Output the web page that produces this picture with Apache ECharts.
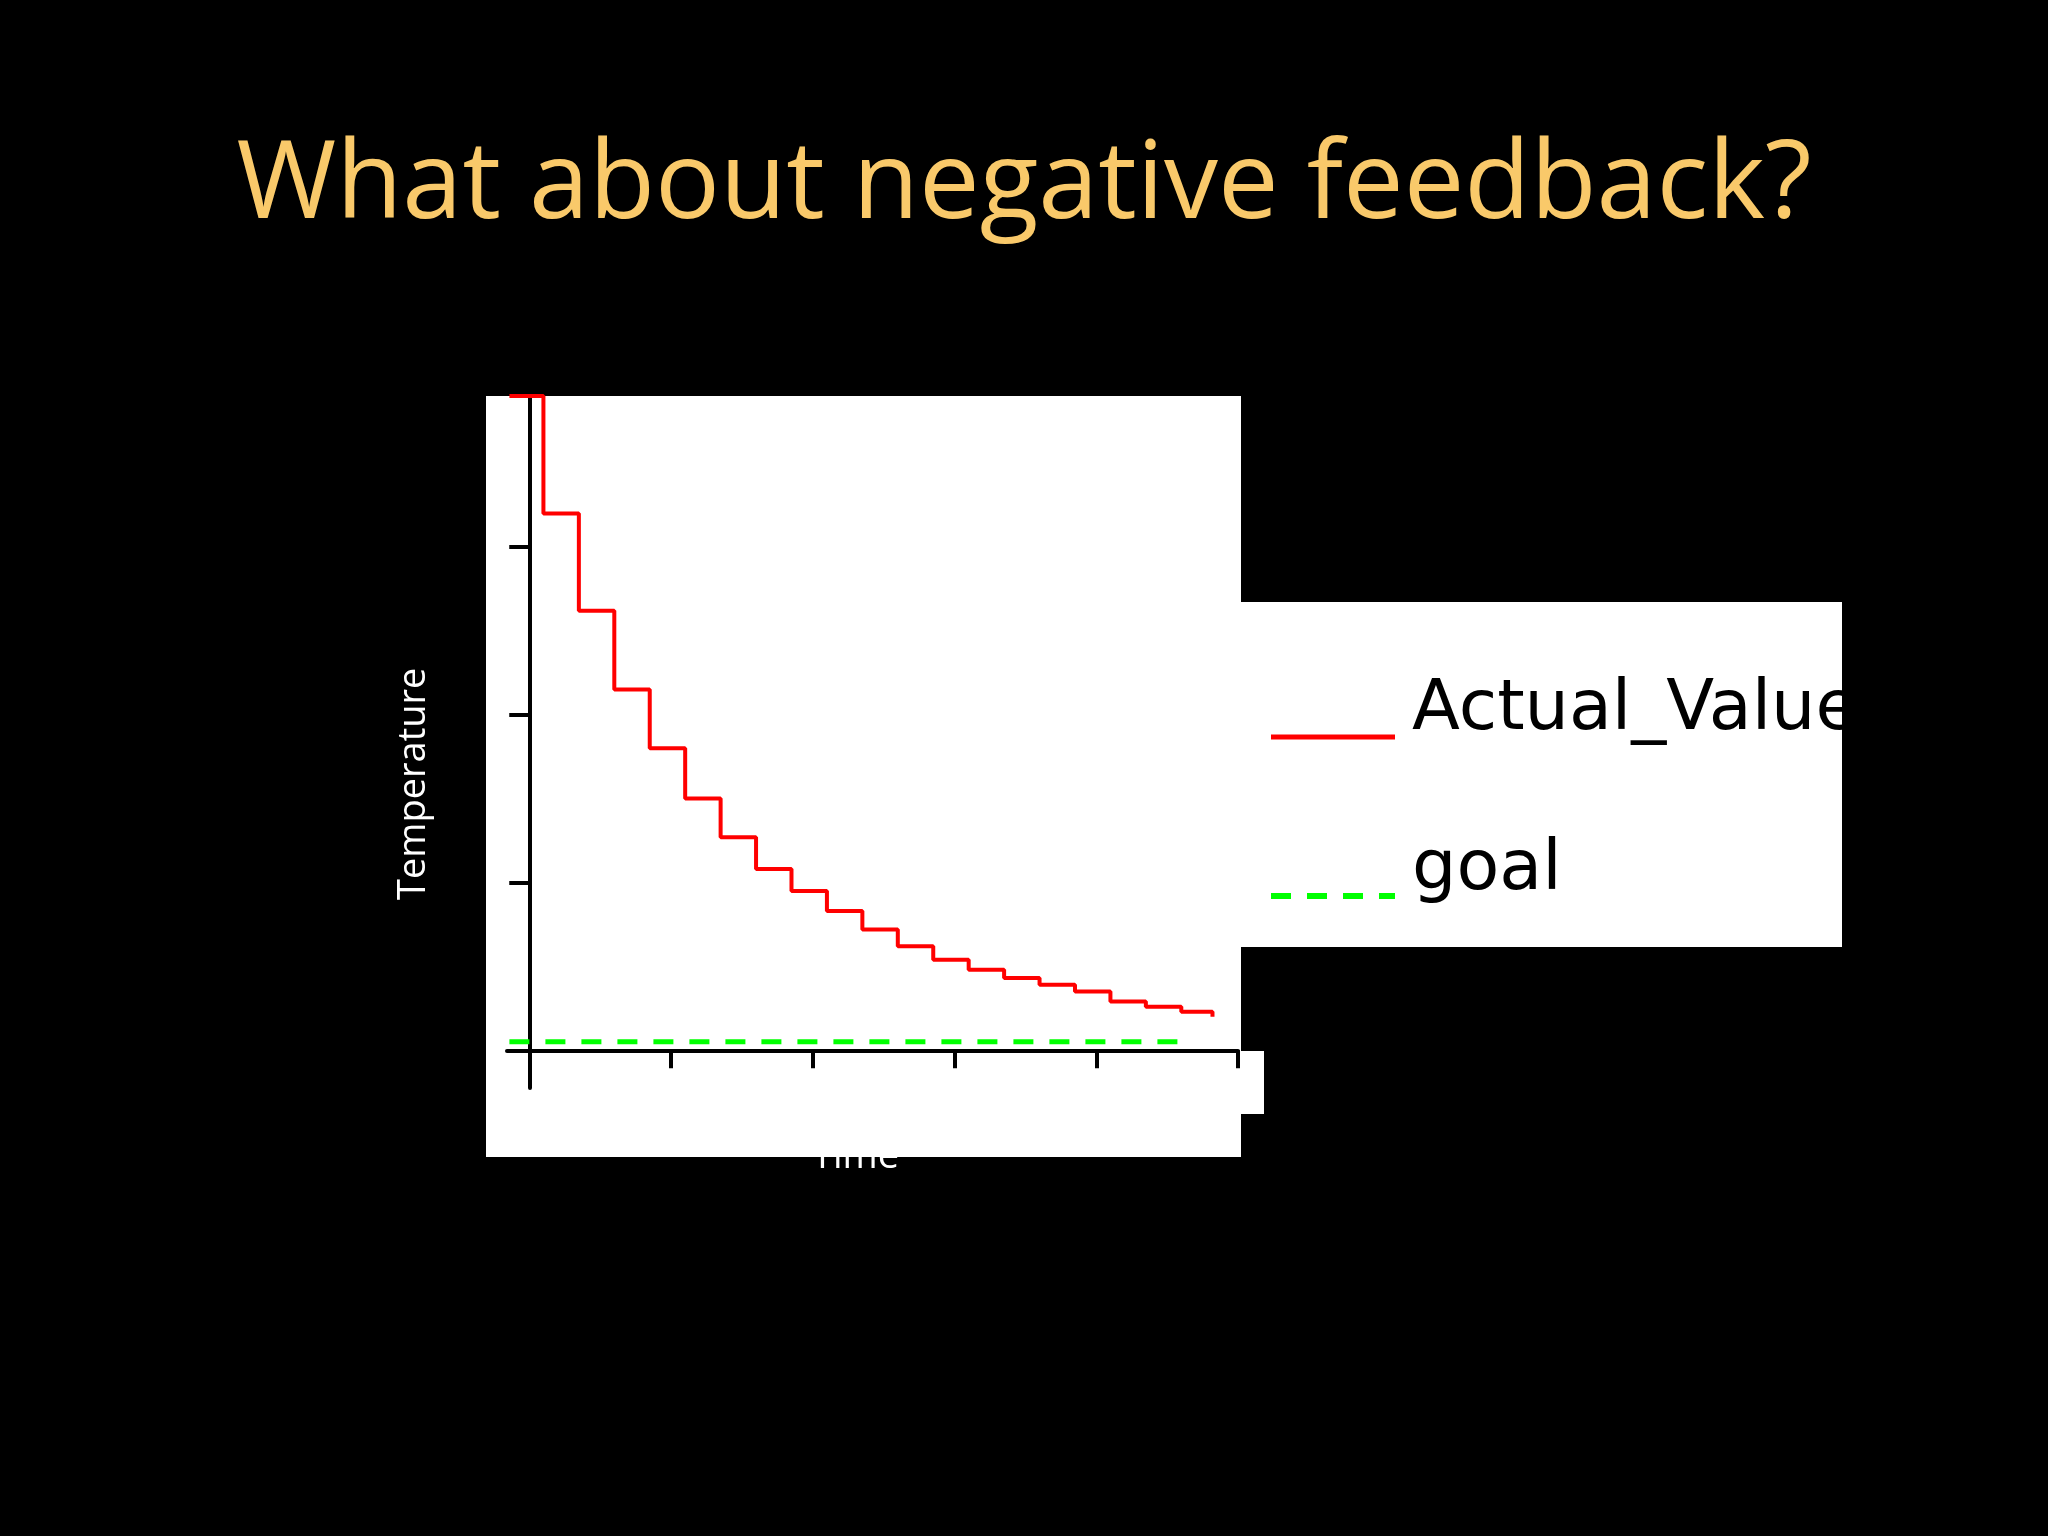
<!DOCTYPE html>
<html>
<head>
<meta charset="utf-8">
<script src="https://cdn.jsdelivr.net/npm/echarts@6/dist/echarts.min.js"></script>
<style>html,body{margin:0;padding:0;background:#000}#chart{width:2048px;height:1536px}</style>
</head>
<body>
<div id="chart"></div>
<script>
// time / temperature readings
const timeVals = [-0.14, 0.1, 0.35, 0.6, 0.85, 1.1, 1.35, 1.6, 1.85, 2.1, 2.35, 2.6, 2.85, 3.1, 3.35, 3.6, 3.85, 4.1, 4.35, 4.6, 4.82];
const actualVals = [3.9, 3.2, 2.62, 2.15, 1.8, 1.5, 1.27, 1.08, 0.95, 0.83, 0.72, 0.62, 0.54, 0.48, 0.43, 0.39, 0.35, 0.29, 0.26, 0.23, 0.2];
const goalTimes = [-0.14, 4.65];
const goalVals = [0.05, 0.05];
const xTicks = [0, 1, 2, 3, 4, 5];
const yTicks = [0, 1, 2, 3];

const chart = echarts.init(document.getElementById('chart'));
const axisLine = { lineStyle: { color: '#000', width: 4 } };

chart.setOption({
  backgroundColor: '#000',
  animation: false,
  title: {
    text: 'What about negative feedback?',
    left: 'center', top: 128,
    textStyle: { color: '#f9c96a', fontSize: 108, fontWeight: 'normal', fontFamily: 'Open Sans' }
  },
  graphic: [
    { type: 'rect', z: -10, shape: { x: 486, y: 396, width: 755, height: 761 }, style: { fill: '#fff' } },
    { type: 'rect', z: -10, shape: { x: 1236, y: 1051, width: 28, height: 63 }, style: { fill: '#fff' } },
    { type: 'text', z: -20, left: 812, top: 1138, style: { text: 'Time', fill: '#fff', font: '38px "Open Sans"' } },
    { type: 'text', rotation: Math.PI / 2, x: 395, y: 900, style: { text: 'Temperature', fill: '#fff', font: '38px "Open Sans"', textAlign: 'left', textVerticalAlign: 'top' } },
    { type: 'rect', shape: { x: 1241, y: 602, width: 601, height: 345 }, style: { fill: '#fff' } },
    { type: 'line', shape: { x1: 1271, y1: 737, x2: 1395, y2: 737 }, style: { stroke: '#ff0000', lineWidth: 5 } },
    { type: 'text', left: 1412, top: 676, style: { text: 'Actual_Value', fill: '#000', font: '70px "DejaVu Sans"' } },
    { type: 'line', shape: { x1: 1271, y1: 896, x2: 1395, y2: 896 }, style: { stroke: '#00ff00', lineWidth: 6, lineDash: [20, 16] } },
    { type: 'text', left: 1412, top: 836, style: { text: 'goal', fill: '#000', font: '70px "DejaVu Sans"' } }
  ],
  grid: { left: 507, right: 810, top: 396, bottom: 448 },
  xAxis: {
    type: 'value', min: -0.157, max: 5,
    axisLine: axisLine,
    axisTick: { show: true, customValues: xTicks, length: 18, lineStyle: { color: '#000', width: 4 } },
    axisLabel: { show: false },
    splitLine: { show: false }
  },
  yAxis: {
    type: 'value', min: -0.225, max: 3.9,
    axisLine: axisLine,
    axisTick: { show: true, customValues: yTicks, length: 20, lineStyle: { color: '#000', width: 4 } },
    axisLabel: { show: false },
    splitLine: { show: false }
  },
  series: [
    {
      name: 'Actual_Value', type: 'line', step: 'end', symbol: 'none',
      data: timeVals.map((t, i) => [t, actualVals[i]]),
      lineStyle: { color: '#ff0000', width: 4 }
    },
    {
      name: 'goal', type: 'line', symbol: 'none',
      data: goalTimes.map((t, i) => [t, goalVals[i]]),
      lineStyle: { color: '#00ff00', width: 5, type: [20, 16] }
    }
  ]
});
</script>
</body>
</html>
